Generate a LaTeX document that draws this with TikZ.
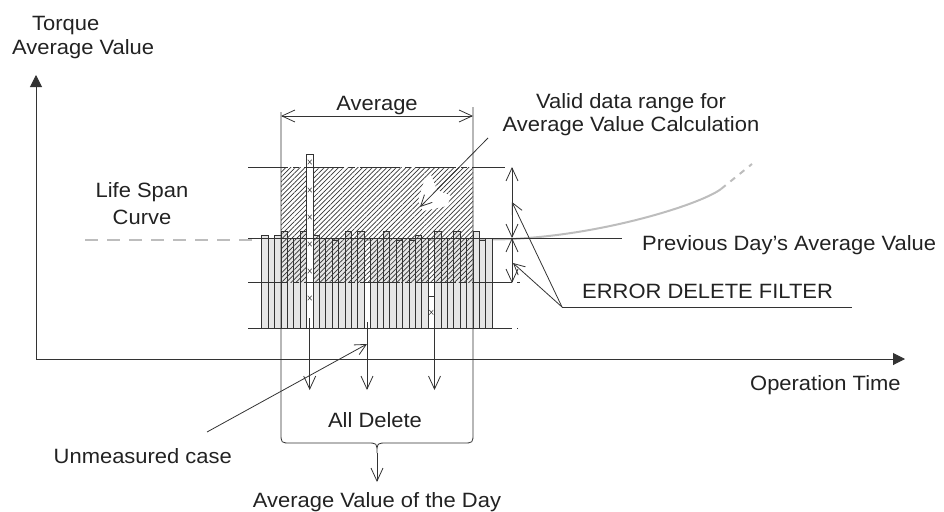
\documentclass[tikz,border=0pt]{standalone}
\usepackage{fontspec}
\setmainfont{Liberation Sans}[FakeStretch=1.06]
\usetikzlibrary{arrows.meta,patterns.meta}

\definecolor{ink}{HTML}{222222}
\definecolor{linec}{HTML}{333333}
\definecolor{barfill}{HTML}{E6E6E6}
\definecolor{lifegray}{HTML}{BDBDBD}

\tikzset{
  lbl/.style={font=\fontsize{20.7}{24}\selectfont, text=ink, inner sep=0pt},
  thinline/.style={line width=0.8pt, draw=linec},
  dashdot/.style={thinline, dash pattern=on 40pt off 5pt on 6pt off 5pt},
  vtip/.tip={Straight Barb[length=13pt,width=12pt,line width=0.8pt]},
  smalltip/.tip={Straight Barb[length=11pt,width=11pt,line width=0.8pt]},
  axistip/.tip={Triangle[length=12pt,width=12pt]},
  xmark/.style={line width=0.5pt, draw=linec},
}

\begin{document}
\begin{tikzpicture}[x=1pt,y=-1pt]
\useasboundingbox (0,0) rectangle (944,511);

% ---- axes ----
\coordinate (origin) at (36,359);
\coordinate (ytop) at (36,75);
\coordinate (xend) at (905,359);
\draw[line width=1pt, draw=linec, -{axistip}] (origin) -- (ytop);
\draw[line width=1pt, draw=linec, -{axistip}] (origin) -- (xend);

\node[lbl, anchor=base west] (torque) at (32,31) {Torque};
\node[lbl, anchor=base west] (torqueavg) at (12,55) {Average Value};
\node[lbl, anchor=base west] (optime) at (750,390) {Operation Time};

% ---- life span curve ----
\coordinate (ls0) at (85,239.5);
\coordinate (ls1) at (262,239.5);
\coordinate (ls2) at (490,239.5);
\coordinate (ls3) at (721,189);
\coordinate (ls4) at (752,164);
\draw[lifegray, line width=2pt, dash pattern=on 13pt off 9pt] (ls0) -- (ls1);
\draw[lifegray, line width=2pt] (ls1) -- (ls2);
\draw[lifegray, line width=2pt] (ls2) .. controls (590,239.5) and (700,205) .. (ls3);
\draw[lifegray, line width=2pt, dash pattern=on 6pt off 6pt] (ls3) -- (ls4);
\node[lbl, anchor=base] (lifespan) at (142,197) {Life Span};
\node[lbl, anchor=base] (curve) at (142,224) {Curve};

% ---- measured bars ----
\foreach \i/\t in {0/235,1/238,2/235,3/231.7,4/238,5/238,6/231.7,8/235,9/238,
  10/238,11/240,12/238,13/231.7,14/238,15/231.7,17/238,18/238,19/231.7,20/238,
  21/240,22/238,23/240,24/235,25/238,27/231.7,28/238,29/238,30/231.7,31/238,
  32/238,33/231.7,34/240,35/238}{
  \filldraw[thinline, fill=barfill] ({261.7+6.4*\i},328) rectangle ({268.1+6.4*\i},\t);
}

% ---- hatched valid range ----
\fill[pattern={Lines[angle=45,distance=3.4pt,line width=0.7pt]}, pattern color=linec]
  (281,167) rectangle (473,282);

% outlier bars (deleted)
\filldraw[thinline, fill=white] (306.5,328) rectangle (312.9,154);
\foreach \y in {162,190,217,244,271,298}{
  \draw[xmark] (307.7,\y-2.3) -- (311.7,\y+2.3) (307.7,\y+2.3) -- (311.7,\y-2.3);
}
\filldraw[thinline, fill=white] (428.1,328) rectangle (434.5,296);
\draw[xmark] (429.3,310) -- (433.3,314.6) (429.3,314.6) -- (433.3,310);

% ---- reference lines ----
\draw[dashdot] (248,167) -- (505,167);
\draw[dashdot] (248,282.5) -- (520,282.5);
\draw[dashdot] (248,328) -- (518,328);
\coordinate (prevL) at (248,238);
\coordinate (prevR) at (622,238);
\draw[thinline] (prevL) -- (prevR);
\node[lbl, anchor=base west] (prevday) at (642,250) {Previous Day’s Average Value};

% ---- averaging window and brace ----
\coordinate (avgL) at (281,116);
\coordinate (avgR) at (473,116);
\draw[thinline] (281,112) -- (281,433) .. controls (281,443) .. (291,443) -- (367,443)
  .. controls (377,443) .. (377,453) .. controls (377,443) .. (387,443) -- (463,443)
  .. controls (473,443) .. (473,433) -- (473,107);
\draw[thinline, {vtip}-{vtip}] (avgL) -- (avgR);
\node[lbl, anchor=base] (avglbl) at (377,110) {Average};

\coordinate (brtip) at (377,453);
\coordinate (dayend) at (377,482);
\draw[thinline, -{vtip}] (brtip) -- (dayend);
\node[lbl, anchor=base] (dayavg) at (377,507) {Average Value of the Day};
\node[lbl, anchor=base] (alldel) at (375,427) {All Delete};

% deletion arrows
\coordinate (d1a) at (309.7,318); \coordinate (d1b) at (309.7,390);
\coordinate (d2a) at (367,322);   \coordinate (d2b) at (367,390);
\coordinate (d3a) at (434.5,328); \coordinate (d3b) at (434.5,390);
\draw[thinline, -{vtip}] (d1a) -- (d1b);
\draw[thinline, -{vtip}] (d2a) -- (d2b);
\draw[thinline, -{vtip}] (d3a) -- (d3b);

% unmeasured case
\node[lbl, anchor=base east] (unmeas) at (232,463) {Unmeasured case};
\coordinate (umstart) at (207,432);
\coordinate (umtip) at (367,344);
\draw[thinline, -{smalltip}] (umstart) -- (umtip);

% valid data range label
\node[lbl, anchor=base] (valid1) at (631,108) {Valid data range for};
\node[lbl, anchor=base] (valid2) at (631,131) {Average Value Calculation};
\fill[white] (424,181) -- (431,175) -- (437,190) -- (451,196) -- (447,206) -- (423,211) -- (418,201) -- cycle;
\coordinate (vstart) at (488,138);
\coordinate (vtip) at (420,207);
\draw[thinline, -{smalltip}] (vstart) -- (vtip);

% ---- error delete filter dimensions ----
\coordinate (e0) at (512,167);
\coordinate (e1) at (512,238);
\coordinate (e2) at (512,283);
\draw[thinline, {vtip}-{vtip}] (e0) -- (e1);
\draw[thinline, {vtip}-{vtip}] (e1) -- (e2);
\coordinate (ejoin) at (562,307);
\coordinate (eend) at (852,307);
\coordinate (ehit1) at (512,202);
\coordinate (ehit2) at (513,263);
\draw[thinline] (ejoin) -- (eend);
\draw[thinline, -{smalltip}] (ejoin) -- (ehit1);
\draw[thinline, -{smalltip}] (ejoin) -- (ehit2);
\node[lbl, anchor=base west] (edf) at (582,298) {ERROR DELETE FILTER};
\end{tikzpicture}
\end{document}
